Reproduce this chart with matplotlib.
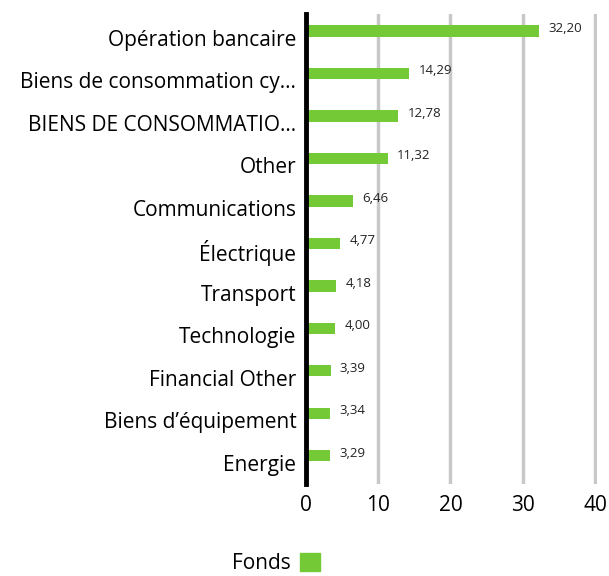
import numpy as np
import matplotlib.pyplot as plt
from matplotlib.patches import Patch
from matplotlib.transforms import ScaledTranslation

plt.rcParams['font.family'] = ['Open Sans', 'DejaVu Sans']

categories = ["Opération bancaire", "Biens de consommation cy...", "BIENS DE CONSOMMATIO...",
              "Other", "Communications", "Électrique", "Transport", "Technologie",
              "Financial Other", "Biens d’équipement", "Energie"]
values = [32.20, 14.29, 12.78, 11.32, 6.46, 4.77, 4.18, 4.00, 3.39, 3.34, 3.29]
ticks = [0, 10, 20, 30, 40]
green = '#74c936'

fig = plt.figure(figsize=(6.09, 5.76), dpi=100)
ax = fig.add_axes([0.5025, 0.1597, 0.478, 0.816])

y = np.arange(len(categories))
ax.barh(y, values, height=0.26, color=green, zorder=3)
for yi, v in zip(y, values):
    ax.text(v + 1.3, yi - 0.06, f"{v:.2f}".replace('.', ','), va='center', ha='left', fontsize=9.5, color='#222222')

ax.set_ylim(len(categories) - 1 + 0.66, -0.4)
ax.set_xlim(0, 40.3)
ax.set_yticks(y)
ax.set_yticklabels(categories, fontsize=15)
ax.set_xticks(ticks)
ax.set_xticklabels([str(t) for t in ticks], fontsize=15)
ax.tick_params(length=0, pad=7)
ax.tick_params(axis='x', pad=8)
shift = ScaledTranslation(0, -0.07, fig.dpi_scale_trans)
for lab in ax.get_yticklabels():
    lab.set_transform(lab.get_transform() + shift)

for t in ticks[1:]:
    ax.axvline(t, color='#c8c8c8', lw=2.5, zorder=1)
for s in ['top', 'right', 'bottom']:
    ax.spines[s].set_visible(False)
ax.spines['left'].set_linewidth(3.5)
ax.spines['left'].set_color('black')
ax.spines['left'].set_zorder(4)

fig.legend(handles=[Patch(color=green, label='Fonds')], loc='center', bbox_to_anchor=(0.453, 0.022),
           frameon=False, markerfirst=False, fontsize=15, handlelength=0.95, handleheight=0.95,
           handletextpad=0.45)

fig.savefig('out.png', dpi=100)
